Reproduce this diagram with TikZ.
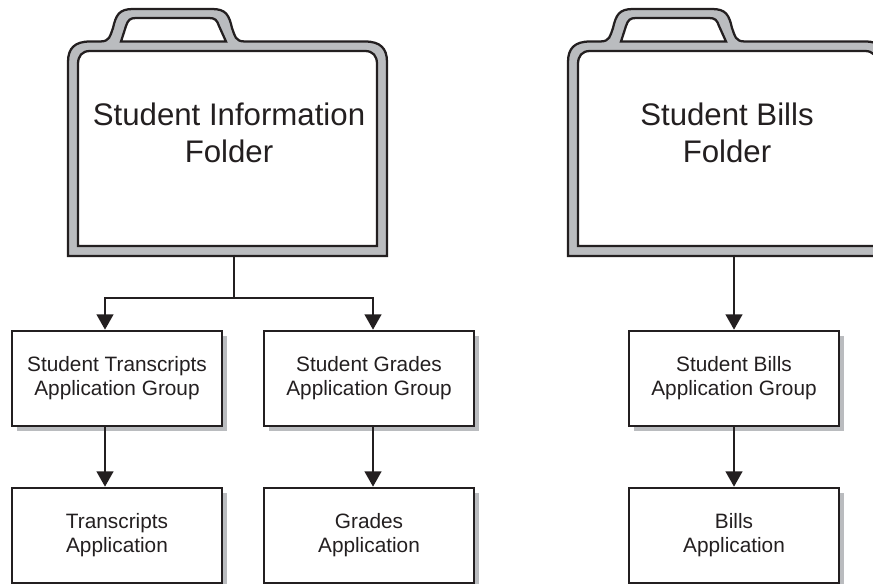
\documentclass[tikz,border=0pt]{standalone}
\usepackage{fontspec}
\setmainfont{Liberation Sans}
\usetikzlibrary{arrows.meta,shadows}
\definecolor{line_black}{RGB}{35,31,32}
\definecolor{bag_gray}{RGB}{186,188,191}

% one folder, x0 is its offset from the left one
\newcommand{\folderbag}[1]{
  \begin{scope}[xshift=#1*0.75pt]
    \draw[fill=bag_gray] (68,256) -- (68,62) .. controls (68,48) and (75,41.5) .. (90,41.5)
      -- (100,41.5) .. controls (110,41.5) and (110,36) .. (113,28) .. controls (116,15) and (119,9) .. (133,9)
      -- (212,9) .. controls (226,9) and (229,15) .. (232,28) .. controls (235,36) and (235,41.5) .. (245,41.5)
      -- (365,41.5) .. controls (380,41.5) and (387,48) .. (387,62) -- (387,256) -- cycle;
    \draw[fill=white] (121,41.5) -- (126,26) .. controls (128,20) and (130,18) .. (136,18)
      -- (209,18) .. controls (215,18) and (217,20) .. (219,26) -- (226,41.5) -- cycle;
    \draw[fill=white] (78,246) -- (78,64) .. controls (78,56) and (82,51) .. (90,51)
      -- (365,51) .. controls (373,51) and (377,56) .. (377,64) -- (377,246) -- cycle;
  \end{scope}
}

\begin{document}
\begin{tikzpicture}[x=0.75pt,y=-0.75pt,line width=1.7pt,draw=line_black,>={Triangle[length=11.5pt,width=12.5pt]}]
    \tikzstyle{every node}=[text=line_black]
    \tikzstyle{bigtext}=[align=center, font=\fontsize{23.4}{27.8}\selectfont]
    \tikzstyle{appbox}=[draw=line_black, fill=white, align=center, minimum width=157.5pt, minimum height=71.5pt, inner sep=0pt,
       font=\fontsize{15.6}{18}\selectfont, drop shadow={shadow xshift=3.75pt,shadow yshift=-3.75pt,fill=bag_gray,opacity=1}]

    \clip (0,0) rectangle (873,584);
    \folderbag{0}
    \folderbag{500}

    \node[bigtext] (infotext)  at (229,133) {Student Information\\Folder};
    \node[bigtext] (billstext) at (727,133) {Student Bills\\Folder};

    \node[appbox] (transgroup) at (117,378.5) {Student Transcripts\\Application Group};
    \node[appbox] (gradegroup) at (369,378.5) {Student Grades\\Application Group};
    \node[appbox] (billgroup)  at (734,378.5) {Student Bills\\Application Group};
    \node[appbox] (transapp)   at (117,535.5) {Transcripts\\Application};
    \node[appbox] (gradeapp)   at (369,535.5) {Grades\\Application};
    \node[appbox] (billapp)    at (734,535.5) {Bills\\Application};

    \coordinate (infobase)  at (234,255);
    \coordinate (billbase)  at (734,255);
    \coordinate (infojoint) at (234,298);
    \coordinate (transaxis) at (105,298);
    \coordinate (gradeaxis) at (373,298);

    \draw (infobase) -- (infojoint);
    \draw[->] (infojoint) -- (transaxis) -- (transgroup.north -| transaxis);
    \draw[->] (infojoint) -- (gradeaxis) -- (gradegroup.north -| gradeaxis);
    \draw[->] (billbase) -- (billgroup.north);
    \draw[->] (transgroup.south -| transaxis) -- (transapp.north -| transaxis);
    \draw[->] (gradegroup.south -| gradeaxis) -- (gradeapp.north -| gradeaxis);
    \draw[->] (billgroup) -- (billapp);
\end{tikzpicture}
\end{document}
